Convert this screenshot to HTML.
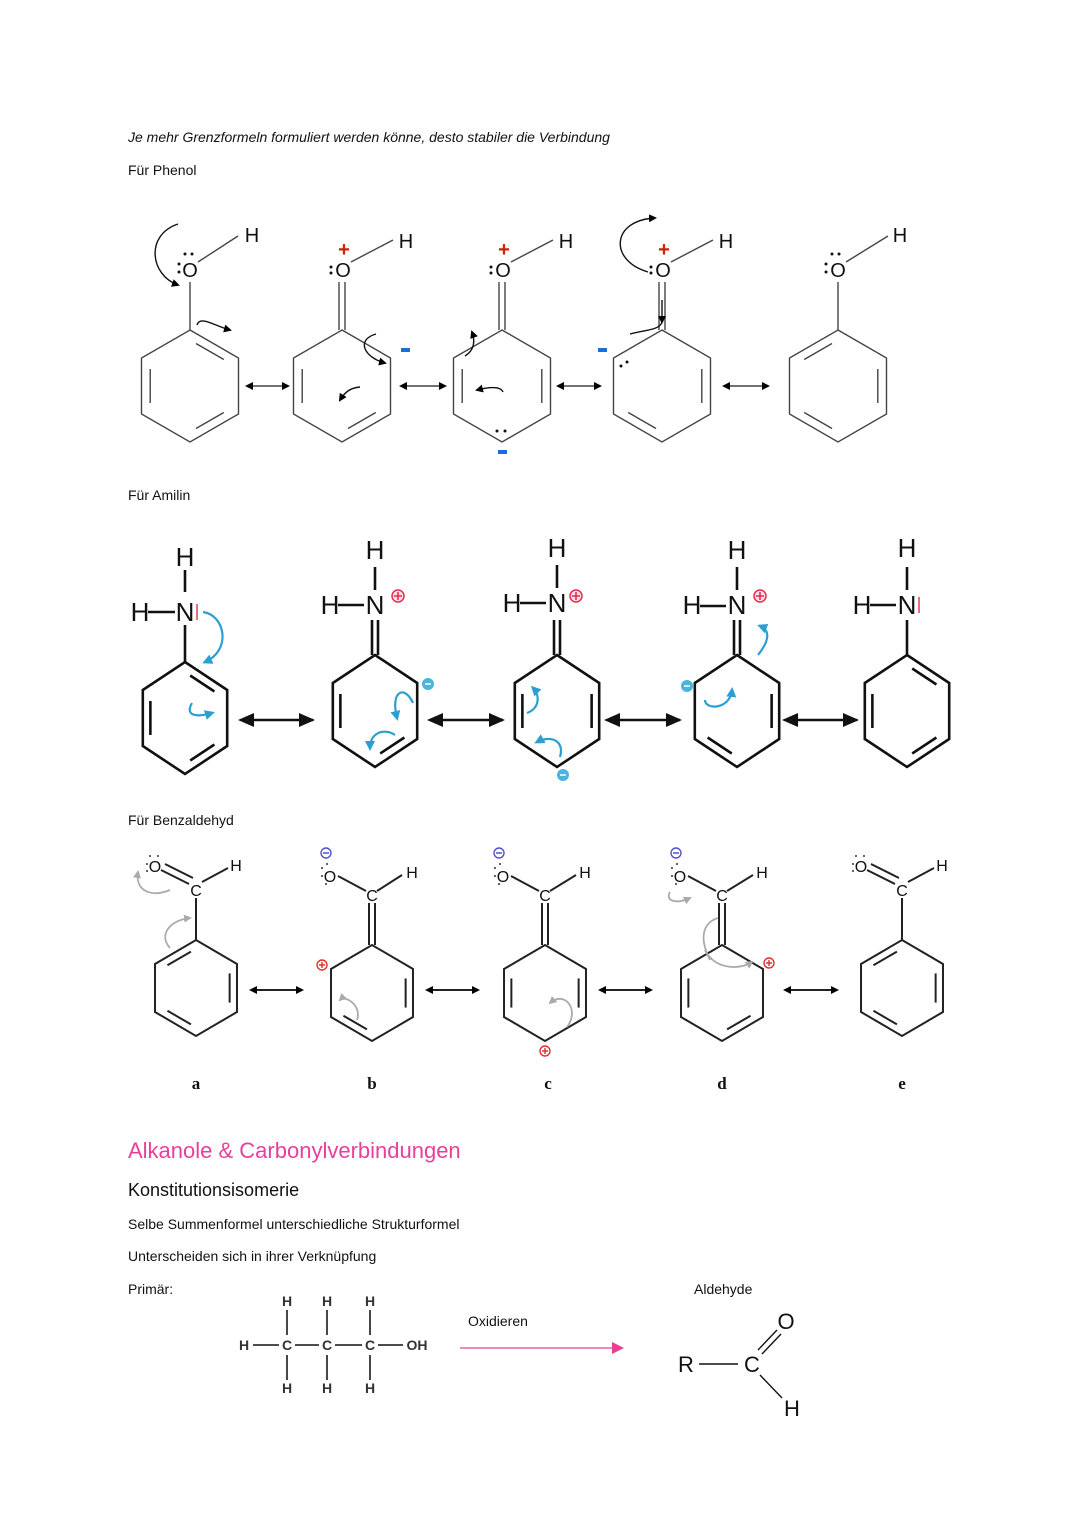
<!DOCTYPE html>
<html><head><meta charset="utf-8"><style>
body{margin:0;background:#fff}
svg{display:block}
text{font-family:"Liberation Sans",sans-serif}
text.serif{font-family:"Liberation Serif",serif}
</style></head><body>
<svg width="1080" height="1527" viewBox="0 0 1080 1527" xmlns="http://www.w3.org/2000/svg">
<defs>
<path id="hex" vector-effect="non-scaling-stroke" d="M0,-56 L48.5,-28 L48.5,28 L0,56 L-48.5,28 L-48.5,-28Z"/>
<path id="e0" vector-effect="non-scaling-stroke" d="M6,-42.5 L33.8,-26.5"/>
<path id="e1" vector-effect="non-scaling-stroke" d="M39.8,-17 L39.8,17"/>
<path id="e2" vector-effect="non-scaling-stroke" d="M33.8,26.5 L6,42.5"/>
<path id="e3" vector-effect="non-scaling-stroke" d="M-6,42.5 L-33.8,26.5"/>
<path id="e4" vector-effect="non-scaling-stroke" d="M-39.8,17 L-39.8,-17"/>
<path id="e5" vector-effect="non-scaling-stroke" d="M-33.8,-26.5 L-6,-42.5"/>
<marker id="ah" markerWidth="8" markerHeight="8" refX="6" refY="4" orient="auto" markerUnits="userSpaceOnUse"><path d="M0,0 L8,4 L0,8Z" fill="#000"/></marker>
<marker id="ahs" markerWidth="8" markerHeight="8" refX="2" refY="4" orient="auto-start-reverse" markerUnits="userSpaceOnUse"><path d="M0,0 L8,4 L0,8Z" fill="#000"/></marker>
<marker id="bh" markerWidth="16" markerHeight="14" refX="14" refY="7" orient="auto" markerUnits="userSpaceOnUse"><path d="M0,0 L16,7 L0,14Z" fill="#111"/></marker>
<marker id="bhs" markerWidth="16" markerHeight="14" refX="2" refY="7" orient="auto-start-reverse" markerUnits="userSpaceOnUse"><path d="M0,0 L16,7 L0,14Z" fill="#111"/></marker>
<marker id="ch" markerWidth="10" markerHeight="10" refX="7" refY="5" orient="auto" markerUnits="userSpaceOnUse"><path d="M0,0 L10,5 L0,10Z" fill="#2a9fd0"/></marker>
<marker id="gh" markerWidth="8" markerHeight="8" refX="6" refY="4" orient="auto" markerUnits="userSpaceOnUse"><path d="M0,0 L8,4 L0,8Z" fill="#aaa"/></marker>
<marker id="ph" markerWidth="12" markerHeight="12" refX="10" refY="6" orient="auto" markerUnits="userSpaceOnUse"><path d="M0,0 L12,6 L0,12Z" fill="#e8408f"/></marker>
</defs>

<text x="128" y="142" font-size="14" font-style="italic" fill="#111">Je mehr Grenzformeln formuliert werden könne, desto stabiler die Verbindung</text>
<text x="128" y="175" font-size="14" fill="#111">Für Phenol</text>
<text x="128" y="500" font-size="14" fill="#111">Für Amilin</text>
<text x="128" y="825" font-size="14" fill="#111">Für Benzaldehyd</text>

<!-- PHENOL ROW -->
<g stroke="#444" stroke-width="1.4" fill="none">
 <g transform="translate(190,386)"><use href="#hex"/><use href="#e0"/><use href="#e2"/><use href="#e4"/></g>
 <g transform="translate(342,386)"><use href="#hex"/><use href="#e2"/><use href="#e4"/></g>
 <g transform="translate(502,386)"><use href="#hex"/><use href="#e1"/><use href="#e4"/></g>
 <g transform="translate(662,386)"><use href="#hex"/><use href="#e1"/><use href="#e3"/></g>
 <g transform="translate(838,386)"><use href="#hex"/><use href="#e5"/><use href="#e1"/><use href="#e3"/></g>
 <path d="M190,330 V282 M198,262 L238,236"/>
 <path d="M339,330 V282 M345,330 V282 M351,262 L393,240"/>
 <path d="M499,330 V282 M505,330 V282 M511,262 L553,240"/>
 <path d="M659,330 V282 M665,330 V282 M671,262 L713,240"/>
 <path d="M838,330 V282 M846,262 L888,236"/>
 <path d="M251,386 H288" marker-end="url(#ah)" marker-start="url(#ahs)"/>
 <path d="M405,386 H445" marker-end="url(#ah)" marker-start="url(#ahs)"/>
 <path d="M562,386 H600" marker-end="url(#ah)" marker-start="url(#ahs)"/>
 <path d="M728,386 H768" marker-end="url(#ah)" marker-start="url(#ahs)"/>
 <path d="M178,224 C145,235 150,275 178,285" stroke="#111" marker-end="url(#ah)"/>
 <path d="M197,325 C200,315 215,326 230,330" stroke="#111" marker-end="url(#ah)"/>
 <path d="M376,334 C355,340 365,358 385,363" stroke="#111" marker-end="url(#ah)"/>
 <path d="M360,387 C350,388 345,392 340,400" stroke="#111" marker-end="url(#ah)"/>
 <path d="M465,356 C475,350 475,340 472,332" stroke="#111" marker-end="url(#ah)"/>
 <path d="M503,392 C500,385 485,388 477,390" stroke="#111" marker-end="url(#ah)"/>
 <path d="M648,272 C608,260 612,220 655,218" stroke="#111" marker-end="url(#ah)"/>
 <path d="M630,334 C645,330 660,330 662,322" stroke="#111"/>
 <path d="M662,300 V322" stroke="#111" marker-end="url(#ah)"/>
</g>
<g font-size="20" fill="#111" text-anchor="middle">
 <text x="190" y="277">O</text><text x="252" y="242">H</text>
 <text x="343" y="277">O</text><text x="406" y="248">H</text>
 <text x="503" y="277">O</text><text x="566" y="248">H</text>
 <text x="663" y="277">O</text><text x="726" y="248">H</text>
 <text x="838" y="277">O</text><text x="900" y="242">H</text>
</g>
<g fill="#111">
 <circle cx="179" cy="264" r="1.5"/><circle cx="179" cy="272" r="1.5"/><circle cx="185" cy="254" r="1.5"/><circle cx="192" cy="254" r="1.5"/>
 <circle cx="331" cy="267" r="1.5"/><circle cx="331" cy="273" r="1.5"/>
 <circle cx="491" cy="267" r="1.5"/><circle cx="491" cy="273" r="1.5"/>
 <circle cx="651" cy="267" r="1.5"/><circle cx="651" cy="273" r="1.5"/>
 <circle cx="826" cy="264" r="1.5"/><circle cx="826" cy="272" r="1.5"/><circle cx="832" cy="254" r="1.5"/><circle cx="839" cy="254" r="1.5"/>
 <circle cx="497" cy="431" r="1.5"/><circle cx="505" cy="431" r="1.5"/>
 <circle cx="621" cy="366" r="1.5"/><circle cx="627" cy="362" r="1.5"/>
</g>
<g font-size="20" font-weight="bold" fill="#cc2200" text-anchor="middle">
 <text x="344" y="256">+</text><text x="504" y="256">+</text><text x="664" y="256">+</text>
</g>
<g fill="#1a6fd6">
 <rect x="401" y="348" width="9" height="4"/><rect x="498" y="450" width="9" height="4"/><rect x="598" y="348" width="9" height="4"/>
</g>

<!-- AMILIN ROW -->
<g stroke="#111" stroke-width="2.6" fill="none">
 <g transform="translate(185,718) scale(0.87,1)"><use href="#hex"/><use href="#e0"/><use href="#e2"/><use href="#e4"/></g>
 <g transform="translate(375,711) scale(0.87,1)"><use href="#hex"/><use href="#e2"/><use href="#e4"/></g>
 <g transform="translate(557,711) scale(0.87,1)"><use href="#hex"/><use href="#e1"/><use href="#e4"/></g>
 <g transform="translate(737,711) scale(0.87,1)"><use href="#hex"/><use href="#e1"/><use href="#e3"/></g>
 <g transform="translate(907,711) scale(0.87,1)"><use href="#hex"/><use href="#e0"/><use href="#e2"/><use href="#e4"/></g>
 <path d="M185,662 V625 M185,592 V570 M148,612 H175"/>
 <path d="M372,655 V620 M378,655 V620 M375,590 V567 M338,605 H364"/>
 <path d="M554,655 V620 M560,655 V620 M557,588 V565 M520,603 H546"/>
 <path d="M734,655 V620 M740,655 V620 M737,590 V567 M700,606 H726"/>
 <path d="M907,655 V620 M907,590 V567 M870,605 H896"/>
 <path d="M252,720 H313" marker-end="url(#bh)" marker-start="url(#bhs)"/>
 <path d="M441,720 H503" marker-end="url(#bh)" marker-start="url(#bhs)"/>
 <path d="M618,720 H680" marker-end="url(#bh)" marker-start="url(#bhs)"/>
 <path d="M796,720 H857" marker-end="url(#bh)" marker-start="url(#bhs)"/>
</g>
<g stroke="#2a9fd0" stroke-width="2.2" fill="none">
 <path d="M203,612 C225,615 232,650 205,662" marker-end="url(#ch)"/>
 <path d="M192,703 C185,715 195,718 212,713" marker-end="url(#ch)"/>
 <path d="M413,703 C405,685 390,690 397,718" marker-end="url(#ch)"/>
 <path d="M395,735 C385,728 370,732 370,748" marker-end="url(#ch)"/>
 <path d="M527,713 C540,708 540,695 533,688" marker-end="url(#ch)"/>
 <path d="M560,757 C565,740 550,735 537,742" marker-end="url(#ch)"/>
 <path d="M705,700 C705,710 730,710 732,690" marker-end="url(#ch)"/>
 <path d="M758,655 C770,640 770,630 760,626" marker-end="url(#ch)"/>
</g>
<path d="M197,604 V620" stroke="#e04050" stroke-width="1.5"/>
<path d="M919,597 V613" stroke="#e04050" stroke-width="1.5"/>
<g font-size="26" fill="#111" text-anchor="middle">
 <text x="185" y="566">H</text><text x="140" y="621">H</text><text x="185" y="621">N</text>
 <text x="375" y="559">H</text><text x="330" y="614">H</text><text x="375" y="614">N</text>
 <text x="557" y="557">H</text><text x="512" y="612">H</text><text x="557" y="612">N</text>
 <text x="737" y="559">H</text><text x="692" y="614">H</text><text x="737" y="614">N</text>
 <text x="907" y="557">H</text><text x="862" y="614">H</text><text x="907" y="614">N</text>
</g>
<g stroke="#e0304a" stroke-width="1.5" fill="#fde">
 <circle cx="398" cy="596" r="6"/><circle cx="576" cy="596" r="6"/><circle cx="760" cy="596" r="6"/>
</g>
<g stroke="#e0304a" stroke-width="1.6"><path d="M394,596 H402 M398,592 V600 M572,596 H580 M576,592 V600 M756,596 H764 M760,592 V600"/></g>
<g fill="#4ab4dd"><circle cx="428" cy="684" r="6"/><circle cx="563" cy="775" r="6"/><circle cx="687" cy="686" r="6"/></g>
<g stroke="#fff" stroke-width="1.6"><path d="M425,684 H431 M560,775 H566 M684,686 H690"/></g>

<!-- BENZALDEHYDE ROW -->
<g stroke="#222" stroke-width="2" fill="none">
 <g transform="translate(196,988) scale(0.845,0.857)"><use href="#hex"/><use href="#e5"/><use href="#e1"/><use href="#e3"/></g>
 <g transform="translate(372,993) scale(0.845,0.857)"><use href="#hex"/><use href="#e1"/><use href="#e3"/></g>
 <g transform="translate(545,993) scale(0.845,0.857)"><use href="#hex"/><use href="#e4"/><use href="#e1"/></g>
 <g transform="translate(722,993) scale(0.845,0.857)"><use href="#hex"/><use href="#e4"/><use href="#e2"/></g>
 <g transform="translate(902,988) scale(0.845,0.857)"><use href="#hex"/><use href="#e5"/><use href="#e1"/><use href="#e3"/></g>
 <path d="M196,940 V898 M161,870 L189,884 M165,864 L193,878 M202,882 L228,868"/>
 <path d="M369,945 V903 M375,945 V903 M338,876 L366,891 M377,891 L402,875"/>
 <path d="M542,945 V903 M548,945 V903 M511,876 L539,891 M550,891 L576,875"/>
 <path d="M719,945 V903 M725,945 V903 M688,876 L716,891 M727,891 L753,875"/>
 <path d="M902,940 V898 M867,870 L895,884 M871,864 L899,878 M908,882 L934,868"/>
 <path d="M255,990 H302" marker-end="url(#ah)" marker-start="url(#ahs)"/>
 <path d="M431,990 H478" marker-end="url(#ah)" marker-start="url(#ahs)"/>
 <path d="M604,990 H651" marker-end="url(#ah)" marker-start="url(#ahs)"/>
 <path d="M789,990 H837" marker-end="url(#ah)" marker-start="url(#ahs)"/>
</g>
<g stroke="#aaa" stroke-width="1.8" fill="none">
 <path d="M170,890 C150,898 135,890 138,872" marker-end="url(#gh)"/>
 <path d="M170,948 C158,935 170,920 190,918" marker-end="url(#gh)"/>
 <path d="M357,1020 C362,1005 345,995 340,1000" marker-end="url(#gh)"/>
 <path d="M567,1027 C580,1010 565,990 550,1003" marker-end="url(#gh)"/>
 <path d="M710,960 C695,930 710,920 718,918" />
 <path d="M670,892 C665,900 675,905 690,898" marker-end="url(#gh)"/>
 <path d="M705,950 C715,970 740,970 752,962" marker-end="url(#gh)"/>
</g>
<g font-size="16" fill="#111" text-anchor="middle">
 <text x="155" y="872">O</text><text x="196" y="896">C</text><text x="236" y="871">H</text>
 <text x="330" y="882">O</text><text x="372" y="901">C</text><text x="412" y="878">H</text>
 <text x="503" y="882">O</text><text x="545" y="901">C</text><text x="585" y="878">H</text>
 <text x="680" y="882">O</text><text x="722" y="901">C</text><text x="762" y="878">H</text>
 <text x="861" y="872">O</text><text x="902" y="896">C</text><text x="942" y="871">H</text>
</g>
<g fill="#333">
 <circle cx="150" cy="856" r="1"/><circle cx="158" cy="856" r="1"/><circle cx="147" cy="864" r="1"/><circle cx="147" cy="871" r="1"/>
 <circle cx="856" cy="856" r="1"/><circle cx="864" cy="856" r="1"/><circle cx="853" cy="864" r="1"/><circle cx="853" cy="871" r="1"/>
 <circle cx="322" cy="868" r="1"/><circle cx="322" cy="876" r="1"/><circle cx="326" cy="884" r="1"/><circle cx="327" cy="864" r="1"/>
 <circle cx="495" cy="868" r="1"/><circle cx="495" cy="876" r="1"/><circle cx="499" cy="884" r="1"/><circle cx="500" cy="864" r="1"/>
 <circle cx="672" cy="868" r="1"/><circle cx="672" cy="876" r="1"/><circle cx="676" cy="884" r="1"/><circle cx="677" cy="864" r="1"/>
</g>
<g fill="none" stroke="#5050d0" stroke-width="1.4"><circle cx="326" cy="853" r="5"/><circle cx="499" cy="853" r="5"/><circle cx="676" cy="853" r="5"/>
 <path d="M323,853 H329 M496,853 H502 M673,853 H679"/></g>
<g fill="none" stroke="#e03030" stroke-width="1.4"><circle cx="322" cy="965" r="5"/><circle cx="545" cy="1051" r="5"/><circle cx="769" cy="963" r="5"/>
 <path d="M319,965 H325 M322,962 V968 M542,1051 H548 M545,1048 V1054 M766,963 H772 M769,960 V966"/></g>
<g font-weight="bold" font-size="17" fill="#111" text-anchor="middle">
 <text class="serif" x="196" y="1089">a</text><text class="serif" x="372" y="1089">b</text><text class="serif" x="548" y="1089">c</text><text class="serif" x="722" y="1089">d</text><text class="serif" x="902" y="1089">e</text>
</g>

<!-- BOTTOM -->
<text x="128" y="1158" font-size="22" fill="#e8409a">Alkanole &amp; Carbonylverbindungen</text>
<text x="128" y="1196" font-size="18" fill="#111">Konstitutionsisomerie</text>
<text x="128" y="1229" font-size="14" fill="#111">Selbe Summenformel unterschiedliche Strukturformel</text>
<text x="128" y="1261" font-size="14" fill="#111">Unterscheiden sich in ihrer Verknüpfung</text>
<text x="128" y="1294" font-size="14" fill="#111">Primär:</text>
<text x="694" y="1294" font-size="14" fill="#111">Aldehyde</text>
<text x="468" y="1326" font-size="14" fill="#111">Oxidieren</text>
<path d="M460,1348 H622" stroke="#e8409a" stroke-width="1.3" marker-end="url(#ph)"/>
<g font-size="14" font-weight="bold" fill="#333" text-anchor="middle">
 <text x="287" y="1306">H</text><text x="327" y="1306">H</text><text x="370" y="1306">H</text>
 <text x="244" y="1350">H</text><text x="287" y="1350">C</text><text x="327" y="1350">C</text><text x="370" y="1350">C</text><text x="417" y="1350">OH</text>
 <text x="287" y="1393">H</text><text x="327" y="1393">H</text><text x="370" y="1393">H</text>
</g>
<g stroke="#333" stroke-width="1.8"><path d="M253,1345 H279 M295,1345 H319 M335,1345 H362 M378,1345 H403 M287,1310 V1335 M327,1310 V1335 M370,1310 V1335 M287,1355 V1380 M327,1355 V1380 M370,1355 V1380"/></g>
<g font-size="22" fill="#111" text-anchor="middle">
 <text x="686" y="1372">R</text><text x="752" y="1372">C</text><text x="786" y="1329">O</text><text x="792" y="1416">H</text>
</g>
<g stroke="#111" stroke-width="1.4"><path d="M699,1364 H738 M758,1350 L777,1330 M762,1354 L781,1334 M760,1375 L782,1398"/></g>
</svg>
</body></html>
